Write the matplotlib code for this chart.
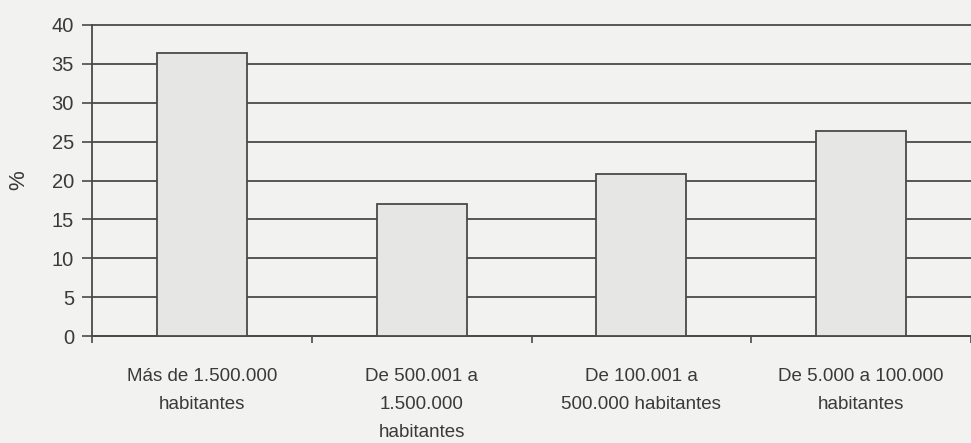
import matplotlib.pyplot as plt
import numpy as np

# Datos
categorias = ["Más de 1.500.000\nhabitantes",
              "De 500.001 a\n1.500.000\nhabitantes",
              "De 100.001 a\n500.000 habitantes",
              "De 5.000 a 100.000\nhabitantes"]
valores = [36.4, 17.0, 20.8, 26.4]
yticks = [0, 5, 10, 15, 20, 25, 30, 35, 40]

plt.rcParams['font.family'] = ['Liberation Sans', 'DejaVu Sans']
texto = "#3a3a3a"
linea = "#4a4a4a"

fig = plt.figure(figsize=(9.71, 4.43), dpi=100, facecolor="#f2f2f0")
ax = fig.add_axes([92 / 971, 107 / 443, 879 / 971, 311 / 443])
ax.set_facecolor("#f2f2f0")

x = np.arange(len(categorias))
ax.bar(x, valores, width=0.41, color="#e6e6e4", edgecolor=linea, linewidth=1.3, zorder=3)

ax.set_ylim(0, 40)
ax.set_xlim(-0.5, -0.5 + 879 / 222)
ax.set_yticks(yticks)
ax.yaxis.grid(True, color=linea, linewidth=1.3, zorder=0)
for gl in ax.get_ygridlines():
    gl.set_clip_on(False)
ax.set_axisbelow(True)

ax.set_xticks(x)
ax.set_xticklabels(categorias, fontsize=13.5, color=texto, linespacing=1.85, va="top")
ax.tick_params(axis="x", length=0, pad=23)
ax.set_xticks(np.arange(-0.5, 4, 1), minor=True)
ax.tick_params(axis="x", which="minor", length=5, width=1.2, color=linea, direction="out")
ax.tick_params(axis="y", labelsize=14.5, labelcolor=texto, length=7, width=1.2, color=linea, pad=6)

for s in ["top", "right"]:
    ax.spines[s].set_visible(False)
for s in ["left", "bottom"]:
    ax.spines[s].set_color(linea)
    ax.spines[s].set_linewidth(1.3)

ax.set_ylabel("%", fontsize=16, color=texto, labelpad=16)

plt.savefig("out.png", dpi=100, facecolor=fig.get_facecolor())
